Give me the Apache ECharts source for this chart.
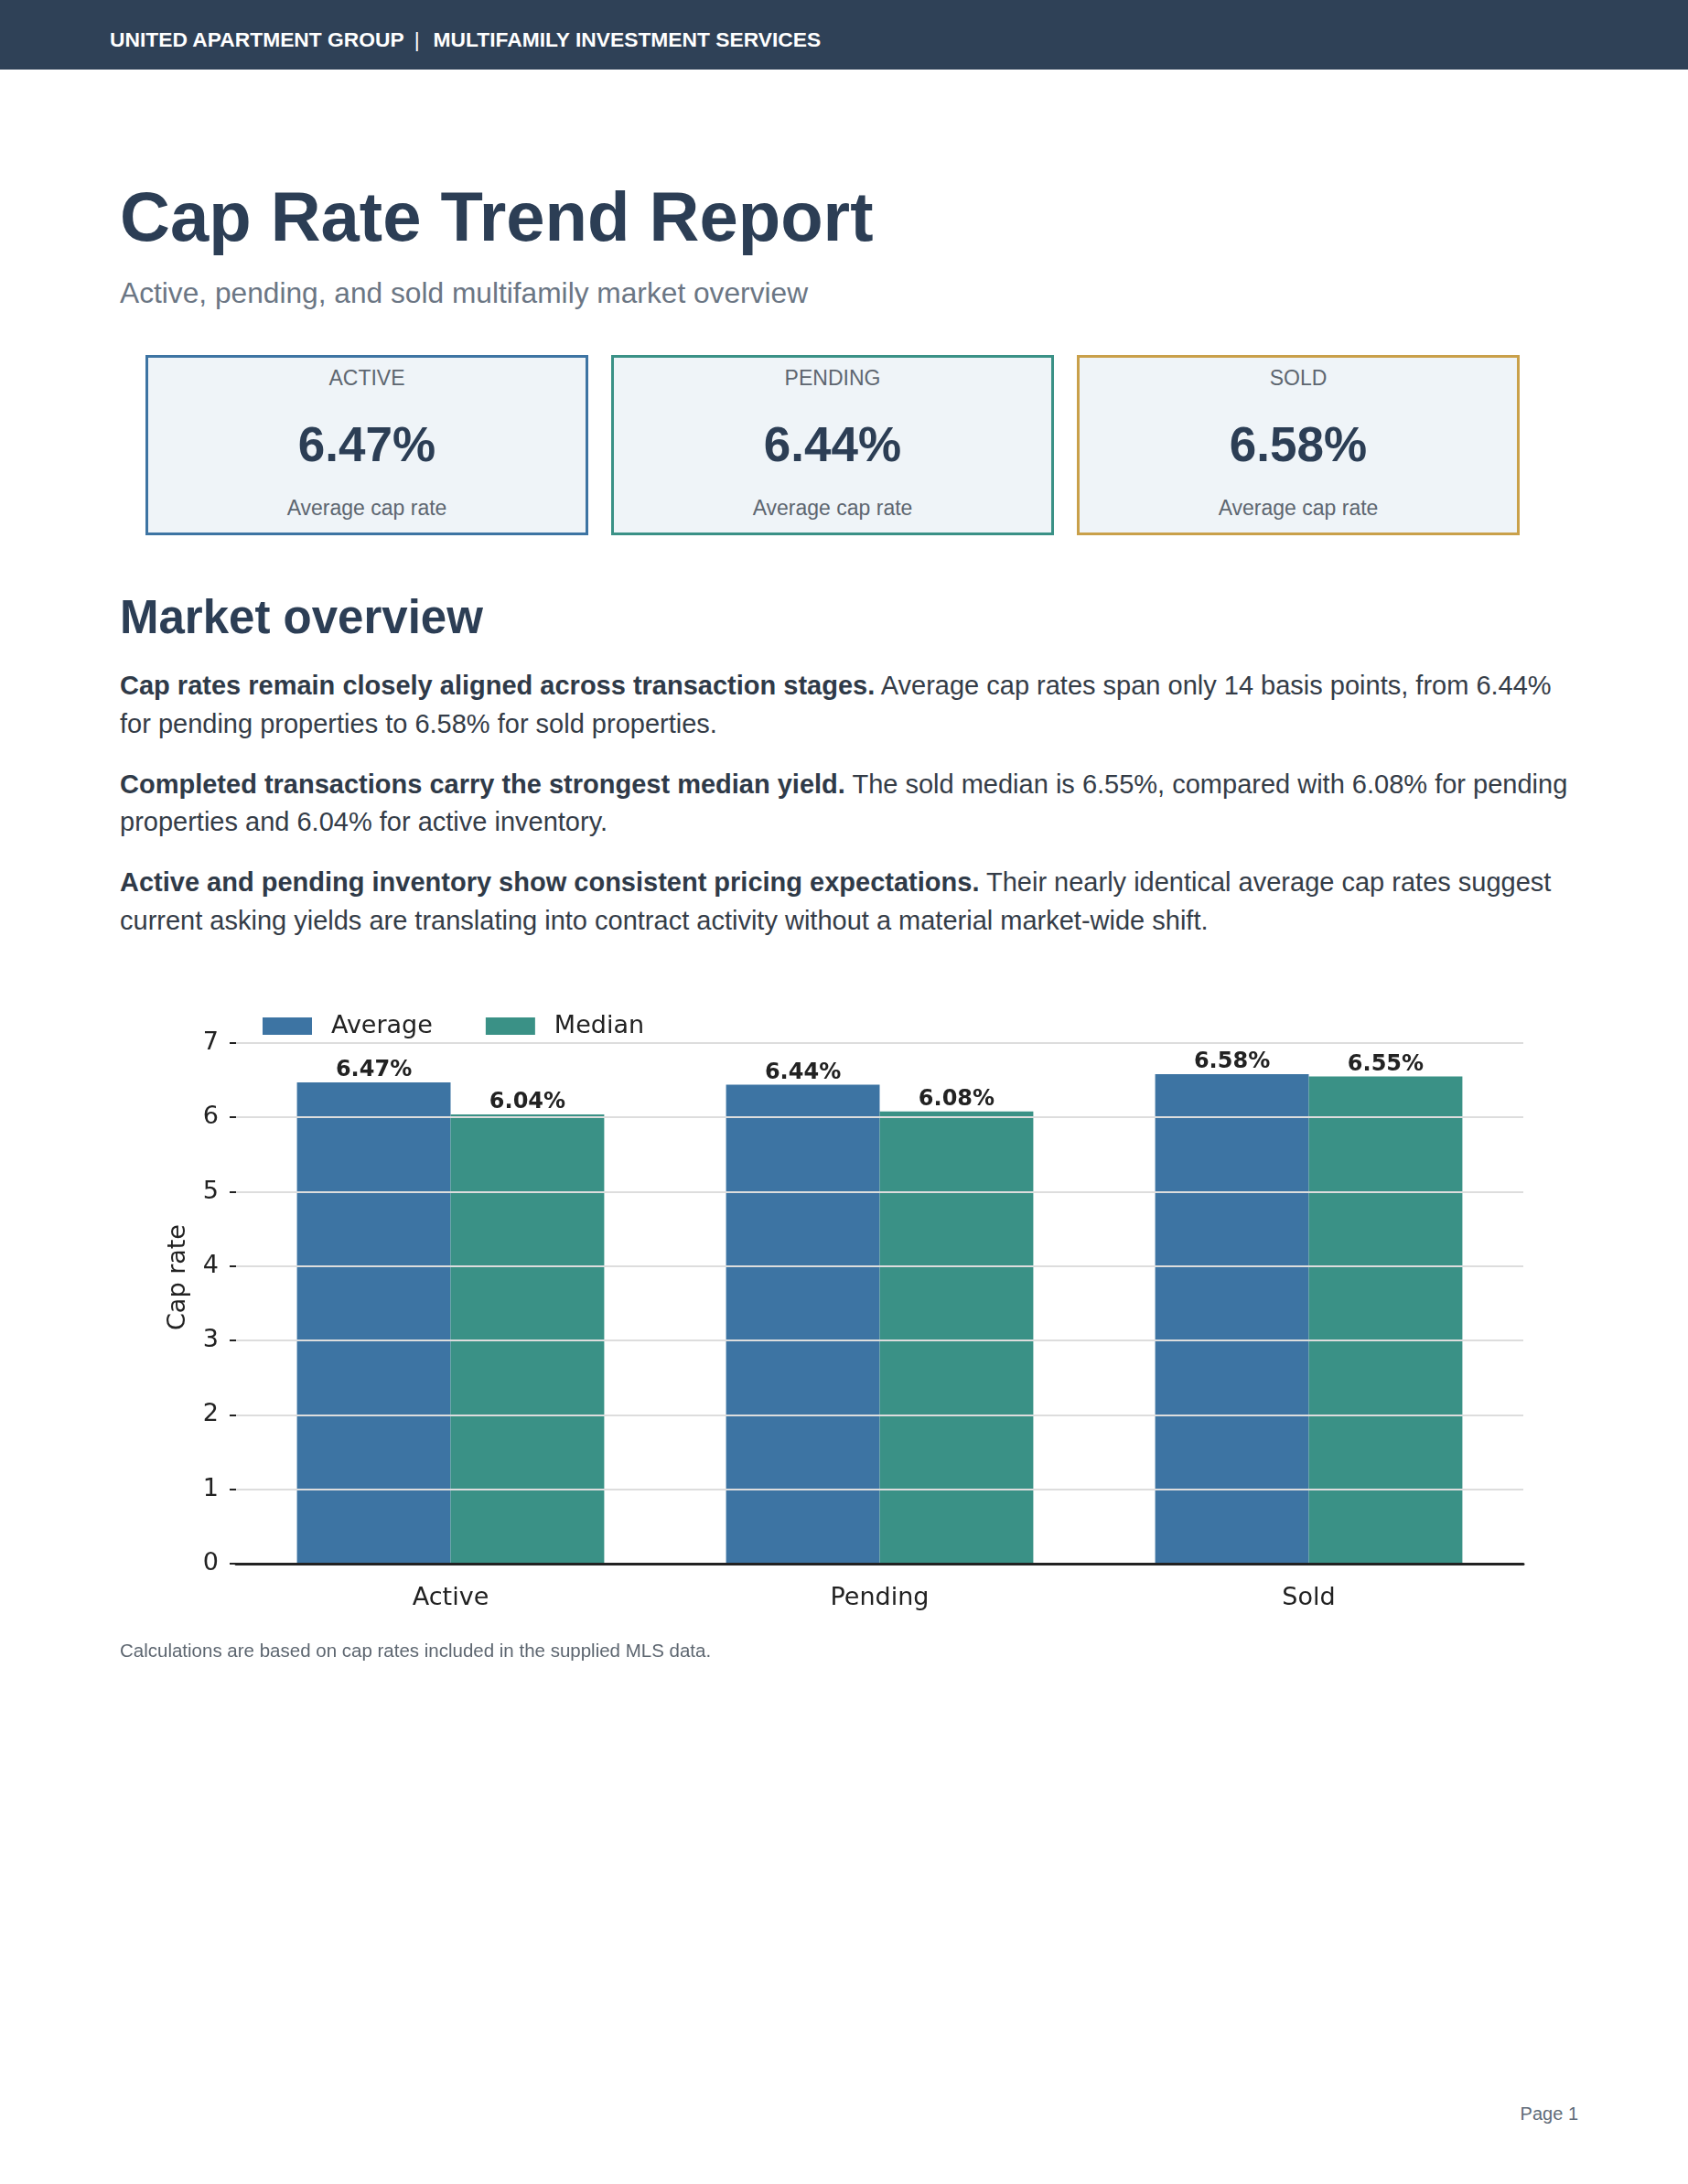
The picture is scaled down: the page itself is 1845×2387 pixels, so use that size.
<!DOCTYPE html>
<html>
<head>
<meta charset="utf-8">
<script src="https://cdn.jsdelivr.net/npm/echarts@6/dist/echarts.min.js"></script>
<style>
  html, body { margin: 0; padding: 0; background: #fff; }
  body { width: 1845px; height: 2387px; position: relative; overflow: hidden;
         font-family: "Liberation Sans", Arial, sans-serif; }
  .topbar { position: absolute; left: 0; top: 0; width: 1845px; height: 76px; background: #2f4157; }
  .topbar span.t { position: absolute; left: 120px; top: 29px; font-size: 22.8px; line-height: 28px;
         font-weight: bold; color: #fff; white-space: nowrap; }
  .topbar .sep { margin: 0 15px 0 11px; font-weight: normal; }
  h1 { position: absolute; left: 131px; top: 199px; margin: 0; font-size: 76px; line-height: 76px;
       color: #2c3e55; font-weight: bold; white-space: nowrap; }
  .sub { position: absolute; left: 131px; top: 304px; font-size: 31.7px; line-height: 32px; color: #6b7684; }
  .cards { position: absolute; left: 159px; top: 388px; }
  .card { position: absolute; top: 0; width: 484px; height: 197px; box-sizing: border-box;
          border: 3px solid; background: #eff4f8; text-align: center; }
  .card .lbl { margin-top: 8px; font-size: 23px; line-height: 28px; color: #5d6670; }
  .card .val { margin-top: 29px; font-size: 53px; line-height: 60px; font-weight: bold; color: #2c3e55; }
  .card .cap { margin-top: 25px; font-size: 23px; line-height: 28px; color: #5d6670; }
  h2 { position: absolute; left: 131px; top: 649px; margin: 0; font-size: 51px; line-height: 51px;
       color: #2c3e55; font-weight: bold; }
  .body { position: absolute; left: 131px; top: 729px; width: 1585px; }
  .body p { margin: 0 0 24.5px 0; font-size: 29px; line-height: 41.5px; color: #343c47; }
  .body b { color: #2f3a48; }
  #chart { position: absolute; left: 0; top: 1050px; width: 1845px; height: 750px; }
  .note { position: absolute; left: 131px; top: 1792px; font-size: 20.5px; line-height: 24px; color: #5d6670; }
  .page { position: absolute; right: 120px; top: 2298px; font-size: 20px; line-height: 24px; color: #5f6b78; }
</style>
</head>
<body>
<div class="topbar"><span class="t">UNITED APARTMENT GROUP<span class="sep">|</span>MULTIFAMILY INVESTMENT SERVICES</span></div>
<h1>Cap Rate Trend Report</h1>
<div class="sub">Active, pending, and sold multifamily market overview</div>
<div class="cards" id="cards"></div>
<h2>Market overview</h2>
<div class="body">
  <p><b>Cap rates remain closely aligned across transaction stages.</b> Average cap rates span only 14 basis points, from 6.44% for pending properties to 6.58% for sold properties.</p>
  <p><b>Completed transactions carry the strongest median yield.</b> The sold median is 6.55%, compared with 6.08% for pending properties and 6.04% for active inventory.</p>
  <p><b>Active and pending inventory show consistent pricing expectations.</b> Their nearly identical average cap rates suggest current asking yields are translating into contract activity without a material market-wide shift.</p>
</div>
<div id="chart"></div>
<div class="note">Calculations are based on cap rates included in the supplied MLS data.</div>
<div class="page">Page 1</div>

<script>
// data
var categories = ['Active', 'Pending', 'Sold'];
var averageRates = [6.47, 6.44, 6.58];
var medianRates = [6.04, 6.08, 6.55];
var yTicks = [0, 1, 2, 3, 4, 5, 6, 7];
var yMax = 7.7;

var cardColors = ['#3d74a3', '#3a9186', '#c9a04a'];

// summary cards
var cardsBox = document.getElementById('cards');
for (var i = 0; i < categories.length; i++) {
  var c = document.createElement('div');
  c.className = 'card';
  c.style.left = (i * 509) + 'px';
  c.style.borderColor = cardColors[i];
  c.innerHTML = '<div class="lbl">' + categories[i].toUpperCase() + '</div>' +
    '<div class="val">' + averageRates[i].toFixed(2) + '%</div>' +
    '<div class="cap">Average cap rate</div>';
  cardsBox.appendChild(c);
}

var font = '"DejaVu Sans", sans-serif';
var labelStyle = {
  show: true, position: 'top', distance: 1,
  fontFamily: font, fontSize: 24, fontWeight: 'bold', color: '#222',
  formatter: function (p) { return p.value.toFixed(2) + '%'; }
};

var myChart = echarts.init(document.getElementById('chart'));
myChart.setOption({
  animation: false,
  color: ['#3d74a3', '#3a9186'],
  legend: {
    left: 282, top: 53,
    itemWidth: 54, itemHeight: 19, itemGap: 58,
    icon: 'rect',
    textStyle: { fontFamily: font, fontSize: 27, color: '#222', padding: [0, 0, 0, 16] },
    data: ['Average', 'Median']
  },
  grid: { left: 258, right: 180, top: 33, bottom: 91, containLabel: false },
  xAxis: {
    type: 'category',
    data: categories,
    z: 5,
    axisLine: { lineStyle: { color: '#222', width: 3 } },
    axisTick: { alignWithLabel: true, length: 10, lineStyle: { color: '#222', width: 2 } },
    axisLabel: { fontFamily: font, fontSize: 27, color: '#222', margin: 24 }
  },
  yAxis: {
    type: 'value',
    min: 0, max: yMax, interval: 1,
    z: 4,
    name: 'Cap rate',
    nameLocation: 'middle',
    nameGap: 50,
    nameTextStyle: { fontFamily: font, fontSize: 27, color: '#222' },
    axisLine: { show: false },
    axisTick: { show: true, length: 7, customValues: yTicks, lineStyle: { color: '#222', width: 2 } },
    axisLabel: { fontFamily: font, fontSize: 27, color: '#222', margin: 19, padding: [12, 0, 0, 0],
                 customValues: yTicks },
    splitLine: { show: true, lineStyle: { color: '#dddddd', width: 2 } }
  },
  series: [
    { name: 'Average', type: 'bar', data: averageRates, barGap: '0%', barCategoryGap: '28.4%',
      label: labelStyle, z: 2 },
    { name: 'Median', type: 'bar', data: medianRates, barGap: '0%', barCategoryGap: '28.4%',
      label: labelStyle, z: 2 }
  ]
});
</script>
</body>
</html>
